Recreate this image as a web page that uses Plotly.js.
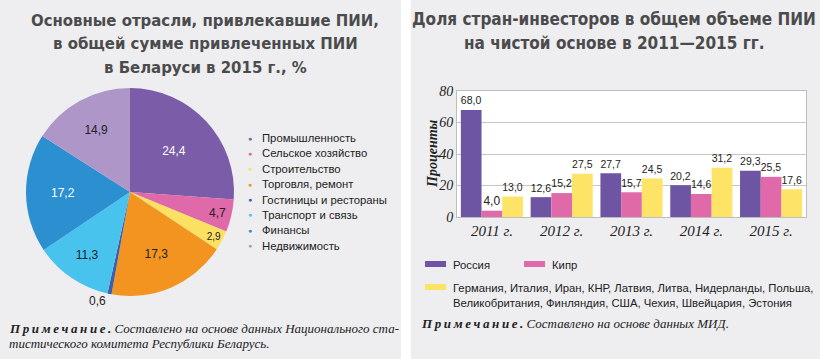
<!DOCTYPE html>
<html><head><meta charset="utf-8">
<script src="https://cdn.plot.ly/plotly-3.0.1.min.js"></script>
<style>html,body{margin:0;padding:0;background:#fff}#chart{width:820px;height:359px}</style>
</head><body><div id="chart"></div>
<script>
// ---- Pie data ----
const pieLabels = ["Промышленность","Сельское хозяйство","Строительство","Торговля, ремонт","Гостиницы и рестораны","Транспорт и связь","Финансы","Недвижимость"];
const pieValues = [24.4, 4.7, 2.9, 17.3, 0.6, 11.3, 17.2, 14.9];
const pieColors = ["#7a5ca8","#e069aa","#fbe062","#f39421","#3f5fa9","#47c3ee","#2b8fd0","#ae96c9"];
const pieTextColors = ["#ffffff","#222222","#222222","#222222","#222222","#222222","#ffffff","#222222"];
const piePositions = ["inside","inside","inside","inside","outside","inside","inside","inside"];

// ---- Bar data ----
const years = ["2011 г.","2012 г.","2013 г.","2014 г.","2015 г."];
const russia = [68.0, 12.6, 27.7, 20.2, 29.3];
const cyprus = [4.0, 15.2, 15.7, 14.6, 25.5];
const others = [13.0, 27.5, 24.5, 31.2, 17.6];
const barNames = ["Россия","Кипр","Германия, Италия, Иран, КНР, Латвия, Литва, Нидерланды, Польша,<br>Великобритания, Финляндия, США, Чехия, Швейцария, Эстония"];
const barColors = ["#6d55a3","#e069aa","#fde466"];
const yTicks = [0, 20, 40, 60, 80];

const fmt = v => v.toFixed(1).replace('.', ',');
const W = 820, H = 359;
const px = x => x / W, py = y => 1 - y / H;

const serif = "Liberation Serif";
const sans = "Liberation Sans";
const narrow = "DejaVu Sans Condensed, DejaVu Sans";

const traces = [];
traces.push({
  type: 'pie', values: pieValues, labels: pieLabels, sort: false, direction: 'clockwise', rotation: 0,
  marker: {colors: pieColors, line: {width: 0}},
  text: pieValues.map(fmt), textinfo: 'text', textposition: piePositions,
  insidetextorientation: 'horizontal',
  textfont: {family: sans, size: 12, color: pieTextColors},
  outsidetextfont: {family: sans, size: 12, color: '#222'},
  domain: {x: [px(26), px(234)], y: [py(296), py(88)]},
  showlegend: false, hoverinfo: 'none'
});
const series = [russia, cyprus, others];
series.forEach((s, i) => {
  traces.push({
    type: 'bar', x: years, y: s, name: barNames[i], marker: {color: barColors[i]},
    text: s.map(fmt), textposition: 'outside', cliponaxis: false,
    textfont: {family: sans, size: 12, color: '#222'},
    showlegend: false, hoverinfo: 'none'
  });
});

const annotations = [];
// titles
const leftTitle = ["Основные отрасли, привлекавшие ПИИ,","в общей сумме привлеченных ПИИ","в Беларуси в 2015 г., %"];
leftTitle.forEach((t, i) => annotations.push({xref:'paper', yref:'paper', x: px(205), y: py(20 + i*23.5), text: '<b>'+t+'</b>', showarrow:false, xanchor:'center', yanchor:'middle', font:{family: narrow, size: 16.6, color:'#4b4b4d'}}));
const rightTitle = ["Доля стран-инвесторов в общем объеме ПИИ","на чистой основе в 2011—2015 гг."];
rightTitle.forEach((t, i) => annotations.push({xref:'paper', yref:'paper', x: px(614), y: py(19 + i*24), text: '<b>'+t+'</b>', showarrow:false, xanchor:'center', yanchor:'middle', font:{family: narrow, size: 17, color:'#4b4b4d'}}));
// pie legend
pieLabels.forEach((l, i) => {
  const y = 138 + i * 15.4;
  annotations.push({xref:'paper', yref:'paper', x: px(250), y: py(y), text: '●', showarrow:false, xanchor:'center', yanchor:'middle', font:{family: sans, size: 7, color: pieColors[i]}});
  annotations.push({xref:'paper', yref:'paper', x: px(260), y: py(y), text: l, showarrow:false, xanchor:'left', yanchor:'middle', font:{family: sans, size: 11.3, color:'#222'}});
});
// bar legend
const shapes = [];
shapes.push({type:'rect', xref:'paper', yref:'paper', x0: px(401), x1: px(411), y0: 0, y1: 1, fillcolor:'#ffffff', line:{width:0}, layer:'below'});
const legPos = [[425, 264], [524, 264], [425, 287]];
barNames.forEach((n, i) => {
  const [lx, ly] = legPos[i];
  shapes.push({type:'rect', xref:'paper', yref:'paper', x0: px(lx), x1: px(lx+21), y0: py(ly+3), y1: py(ly-3), fillcolor: barColors[i], line:{width:0}});
  annotations.push({xref:'paper', yref:'paper', x: px(lx+26), y: py(ly-7), text: n, showarrow:false, xanchor:'left', yanchor:'top', align:'left', font:{family: sans, size: 11.3, color:'#222'}});
});
// y axis title
annotations.push({xref:'paper', yref:'paper', x: px(432), y: py(154), text:'<b><i>Проценты</i></b>', textangle:-90, showarrow:false, xanchor:'center', yanchor:'middle', font:{family: serif, size: 14, color:'#222'}});
// notes
const spaced = s => s.split('').join('\u2009');
annotations.push({xref:'paper', yref:'paper', x: px(7), y: py(328), text:'<b><i>'+spaced('Примечание.')+'</i></b><i> Составлено на основе данных Национального ста-</i>', showarrow:false, xanchor:'left', yanchor:'middle', font:{family: serif, size: 13, color:'#222'}});
annotations.push({xref:'paper', yref:'paper', x: px(7), y: py(343), text:'<i>тистического комитета Республики Беларусь.</i>', showarrow:false, xanchor:'left', yanchor:'middle', font:{family: serif, size: 13, color:'#222'}});
annotations.push({xref:'paper', yref:'paper', x: px(419), y: py(323), text:'<b><i>'+spaced('Примечание.')+'</i></b><i> Составлено на основе данных МИД.</i>', showarrow:false, xanchor:'left', yanchor:'middle', font:{family: serif, size: 13, color:'#222'}});

const layout = {
  width: W, height: H, margin: {l:0, r:0, t:0, b:0},
  paper_bgcolor: '#eeeef0', plot_bgcolor: '#ffffff',
  barmode: 'group', bargap: 0.11, bargroupgap: 0,
  xaxis: {domain: [px(457), px(806)], showline: true, linecolor:'#bdbdbd', linewidth: 1, mirror: true, ticks:'', showgrid:false,
    tickfont: {family: serif, size: 15, style:'italic', color:'#222'}},
  yaxis: {domain: [py(217), py(91)], range: [0, 80], tickvals: yTicks, showline: true, linecolor:'#bdbdbd', linewidth: 1, mirror: true,
    gridcolor:'#c6c6c6', gridwidth: 1, zeroline: false, ticks:'',
    tickfont: {family: serif, size: 14, style:'italic', color:'#222'}},
  annotations, shapes, showlegend: false
};
Plotly.newPlot('chart', traces, layout, {staticPlot: true, displayModeBar: false});
</script></body></html>
